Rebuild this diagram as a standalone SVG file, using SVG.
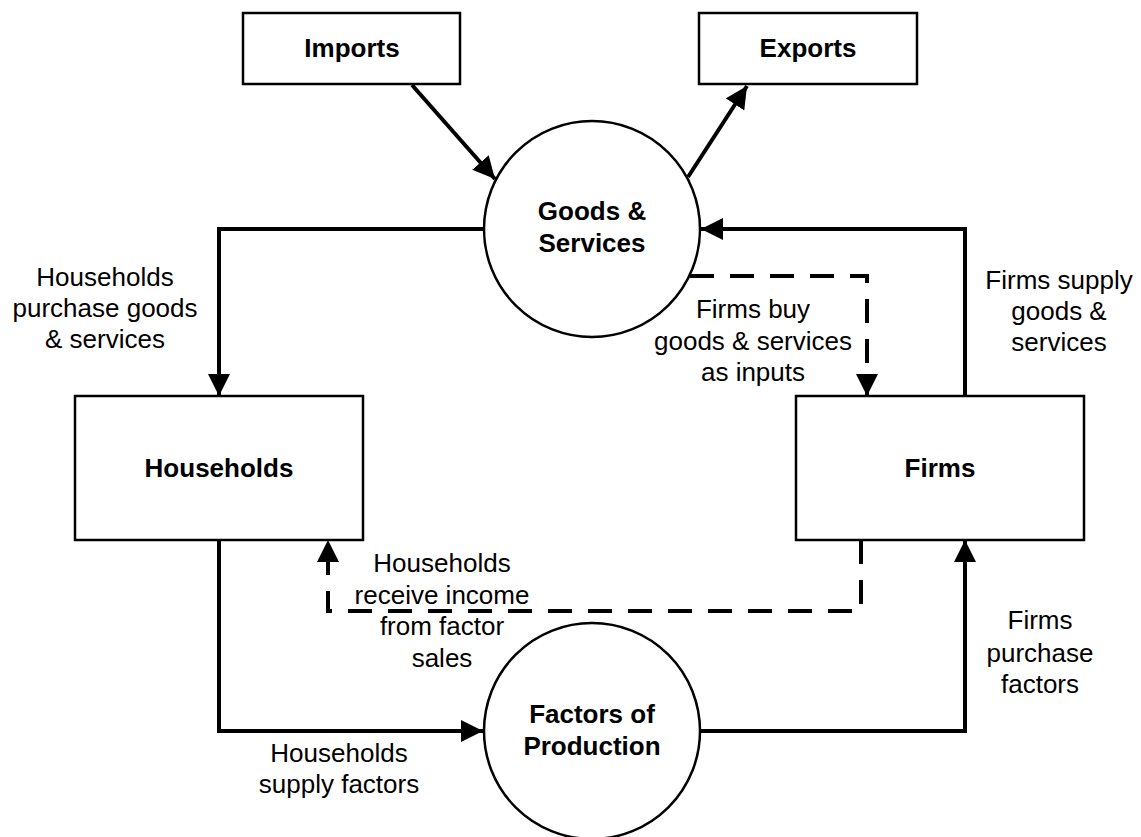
<svg xmlns="http://www.w3.org/2000/svg" width="1141" height="837" viewBox="0 0 1141 837">
<style>
.node{fill:#fff;stroke:#000;stroke-width:2.5}
.b{font-family:"Liberation Sans",Arial,sans-serif;font-weight:bold;font-size:26px;text-anchor:middle;fill:#000}
.t{font-family:"Liberation Sans",Arial,sans-serif;font-size:26px;text-anchor:middle;fill:#000}
.c{fill:none;stroke:#000;stroke-width:4;stroke-linejoin:miter}
.d{fill:none;stroke:#000;stroke-width:4;stroke-dasharray:24 16}
</style>
<defs>
<marker id="ah" markerUnits="userSpaceOnUse" viewBox="0 0 22 22" refX="22" refY="11" markerWidth="22" markerHeight="22" orient="auto">
<path d="M0,0 L22,11 L0,22 Z" fill="#000"/>
</marker>
</defs>
<rect width="1141" height="837" fill="#fff"/>
<g id="connectors">
<path class="c" d="M412,85 L495,179" marker-end="url(#ah)"/>
<path class="c" d="M688,177 L747,86" marker-end="url(#ah)"/>
<path class="c" d="M484,229 L219,229 L219,396" marker-end="url(#ah)"/>
<path class="c" d="M965,396 L965,229 L701,229" marker-end="url(#ah)"/>
<path class="c" d="M219,540 L219,731 L483,731" marker-end="url(#ah)"/>
<path class="c" d="M700,731 L965,731 L965,540" marker-end="url(#ah)"/>
<path class="d" d="M690,276 L867,276 L867,396" marker-end="url(#ah)"/>
<path class="d" d="M861,540 L861,611 L328,611 L328,540" marker-end="url(#ah)"/>
</g>
<g id="imports"><rect class="node" x="243" y="13" width="217" height="71"/><text class="b" x="352" y="57">Imports</text></g>
<g id="exports"><rect class="node" x="699" y="13" width="218" height="71"/><text class="b" x="808" y="57">Exports</text></g>
<g id="goods"><circle class="node" cx="592" cy="229" r="108"/><text class="b" x="592" y="220">Goods &amp;</text><text class="b" x="592" y="252">Services</text></g>
<g id="households"><rect class="node" x="75" y="396" width="288" height="144"/><text class="b" x="219" y="477">Households</text></g>
<g id="firms"><rect class="node" x="796" y="396" width="288" height="144"/><text class="b" x="940" y="477">Firms</text></g>
<g id="factors"><circle class="node" cx="592" cy="731" r="108"/><text class="b" x="592" y="723">Factors of</text><text class="b" x="592" y="755">Production</text></g>
<g id="labels">
<text class="t" x="105" y="286">Households</text>
<text class="t" x="105" y="317">purchase goods</text>
<text class="t" x="105" y="348">&amp; services</text>
<text class="t" x="1059" y="289">Firms supply</text>
<text class="t" x="1059" y="320">goods &amp;</text>
<text class="t" x="1059" y="351">services</text>
<text class="t" x="753" y="318">Firms buy</text>
<text class="t" x="753" y="350">goods &amp; services</text>
<text class="t" x="753" y="381">as inputs</text>
<text class="t" x="442" y="572">Households</text>
<text class="t" x="442" y="604">receive income</text>
<text class="t" x="442" y="635">from factor</text>
<text class="t" x="442" y="667">sales</text>
<text class="t" x="339" y="762">Households</text>
<text class="t" x="339" y="793">supply factors</text>
<text class="t" x="1040" y="629">Firms</text>
<text class="t" x="1040" y="662">purchase</text>
<text class="t" x="1040" y="693">factors</text>
</g>
</svg>
